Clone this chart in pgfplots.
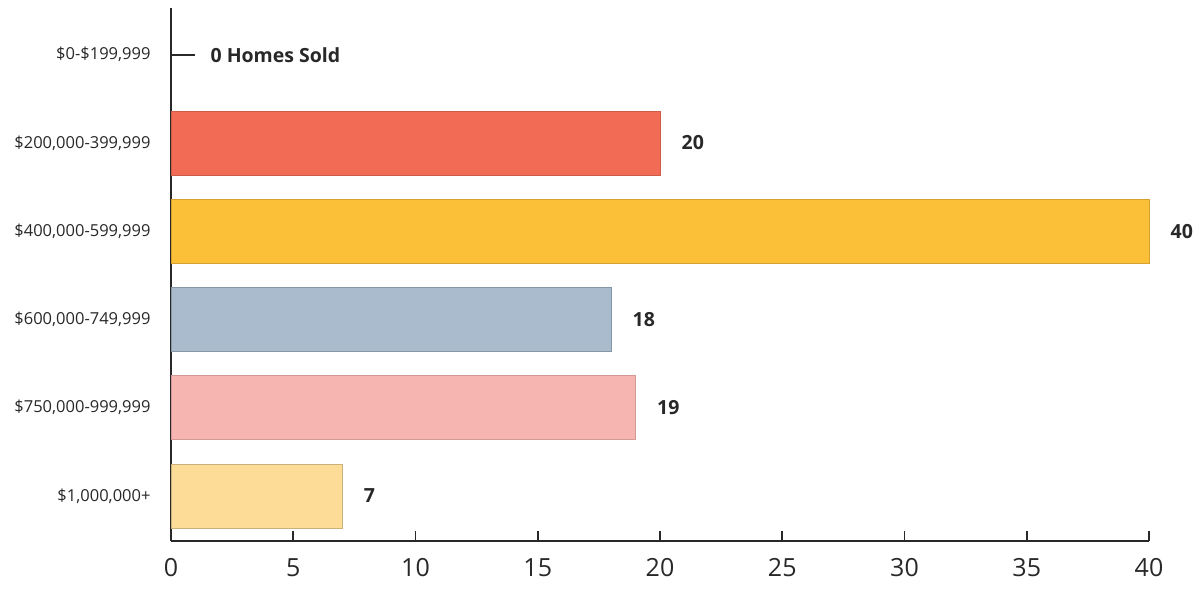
\documentclass[border=0pt]{standalone}
\usepackage{fontspec}
\setmainfont{Open Sans}
\usepackage{pgfplots}
\pgfplotsset{compat=1.18}
\definecolor{axisgray}{RGB}{40,40,40}
\definecolor{cred}{RGB}{242,107,85}
\definecolor{corange}{RGB}{251,191,56}
\definecolor{cblue}{RGB}{169,187,205}
\definecolor{cpink}{RGB}{247,181,178}
\definecolor{cyellow}{RGB}{253,220,152}

\begin{document}
\begin{tikzpicture}
\path[use as bounding box] (0,0) rectangle (1195bp,590bp);
\begin{axis}[
    at={(171bp,49bp)}, anchor=south west,
    scale only axis,
    width=978bp, height=533bp,
    xbar, bar width=64bp, bar shift=0pt,
    xmin=0, xmax=40,
    ymin=-0.53, ymax=5.51,
    y dir=reverse,
    axis x line=bottom, axis y line=left,
    axis line style={-, line width=2bp, draw=axisgray},
    xtick={0,5,...,40},
    ytick={0,1,2,3,4,5},
    yticklabels={{\$0-\$199,999}, {\$200,000-399,999}, {\$400,000-599,999},
                 {\$600,000-749,999}, {\$750,000-999,999}, {\$1,000,000+}},
    x tick style={line width=1.6bp, draw=axisgray},
    major tick length=10bp, tick align=inside,
    y tick style={draw=none},
    xticklabel style={font=\fontsize{25bp}{28bp}\selectfont, text=axisgray, yshift=-14bp},
    yticklabel style={font=\fontsize{16.5bp}{19bp}\selectfont, text=axisgray, xshift=-17bp},
    /pgf/number format/assume math mode=true,
    nodes near coords,
    nodes near coords style={font=\bfseries\fontsize{19.5bp}{22bp}\selectfont, text=axisgray, anchor=west, xshift=18bp},
    clip=false,
]
\addplot[fill=cred, draw=cred!85!black, line width=0.6bp] coordinates {(20,1)};
\addplot[fill=corange, draw=corange!85!black, line width=0.6bp] coordinates {(40,2)};
\addplot[fill=cblue, draw=cblue!80!black, line width=0.6bp] coordinates {(18,3)};
\addplot[fill=cpink, draw=cpink!85!black, line width=0.6bp] coordinates {(19,4)};
\addplot[fill=cyellow, draw=cyellow!80!black, line width=0.6bp] coordinates {(7,5)};
\addplot[sharp plot, line width=1.6bp, draw=axisgray, nodes near coords={}, forget plot] coordinates {(0,0) (1,0)}
    node[pos=1, anchor=west, xshift=11bp, text=axisgray, font=\bfseries\fontsize{19.5bp}{22bp}\selectfont] {0 Homes Sold};
\end{axis}
\end{tikzpicture}
\end{document}
